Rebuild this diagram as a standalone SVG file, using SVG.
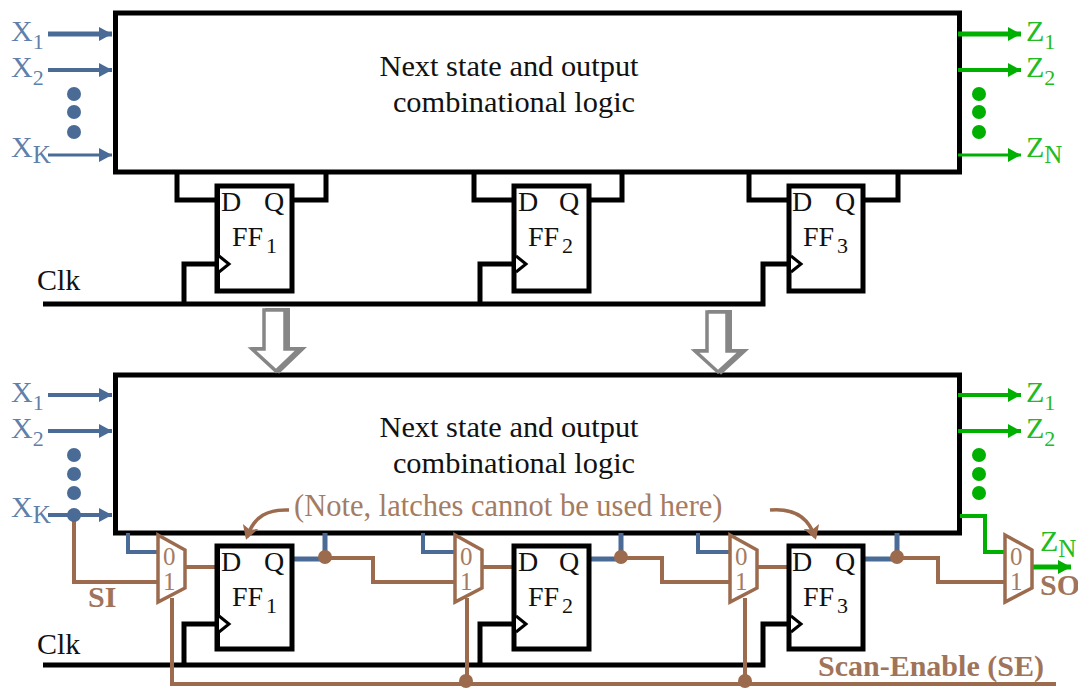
<svg xmlns="http://www.w3.org/2000/svg" width="1078" height="688" viewBox="0 0 1078 688">
<style>
text{font-family:"Liberation Serif","Times New Roman",serif;fill:#111}
.t{font-size:30.4px;text-anchor:middle}
.x{font-size:30px;fill:#5f80ab}
.z{font-size:30px;fill:#22bb22}
.s{font-size:22px}
.l{font-size:25px}
.ff{font-size:28px}
.n{font-size:30.5px;fill:#a57c62}
.b{font-weight:bold;fill:#a0745a;font-size:30px}
.m{font-size:25px;fill:#a57c62}
.ck{font-size:30px}
.box{fill:#fff;stroke:#000;stroke-width:5}
.ffb{fill:#fff;stroke:#000;stroke-width:5}
.k{fill:none;stroke:#000;stroke-width:5}
.bl{fill:none;stroke:#4a6b96;stroke-width:4}
.br{fill:none;stroke:#9c6b4e;stroke-width:4}
.g{fill:none;stroke:#00b000;stroke-width:4}
.mux{fill:#fff;fill-opacity:.6;stroke:#9c6b4e;stroke-width:3.5}
.tri{fill:#fff;stroke:#000;stroke-width:3}
.big{fill:#fff;stroke:#868686;stroke-width:3.5}
.sh{fill:#868686;stroke:#868686;stroke-width:4}
.bd{fill:#4a6b96}.gd{fill:#00b000}.rd{fill:#9c6b4e}
</style>
<defs>
<marker id="ab" markerUnits="userSpaceOnUse" markerWidth="14" markerHeight="14" refX="13" refY="7" orient="auto"><path d="M0 0L13 7L0 14z" fill="#4a6b96"/></marker>
<marker id="ag" markerUnits="userSpaceOnUse" markerWidth="14" markerHeight="14" refX="13" refY="7" orient="auto"><path d="M0 0L13 7L0 14z" fill="#00b000"/></marker>
<marker id="ar" markerUnits="userSpaceOnUse" markerWidth="16" markerHeight="16" refX="11" refY="8" orient="auto"><path d="M0 0L14 8L0 16L3 8z" fill="#9c6b4e"/></marker>
<g id="tr"><path class="tri" d="M219 -8L229 0L219 8"/></g>
</defs>

<g id="logic-top"><rect class="box" x="115.5" y="13" width="844" height="159"/>
<text class="t" x="509" y="76">Next state and output</text><text class="t" x="514" y="112">combinational logic</text></g>
<g id="logic-bottom"><rect class="box" x="115.5" y="375" width="844" height="158"/>
<text class="t" x="509" y="437">Next state and output</text><text class="t" x="514" y="473">combinational logic</text></g>

<g id="connectors">
<path class="k" d="M177 172V200H217M292 200H326V172M474 172V200H514M589 200H622V172M749 172V200H789M863 200H898V172"/>
<path class="k" d="M43 304H763V264H789M184 304V264H217M480 304V264H514"/>
<path class="bl" style="stroke-width:5" d="M48 34H112" marker-end="url(#ab)"/>
<path class="bl" d="M48 70H112" marker-end="url(#ab)"/>
<path class="bl" style="stroke-width:3" d="M48 155H112" marker-end="url(#ab)"/>
<path class="g" style="stroke-width:5" d="M958 34H1021" marker-end="url(#ag)"/>
<path class="g" d="M958 70H1021" marker-end="url(#ag)"/>
<path class="g" style="stroke-width:3" d="M958 155H1021" marker-end="url(#ag)"/>
<path class="bl" d="M48 395H112" marker-end="url(#ab)"/>
<path class="bl" d="M48 431H112" marker-end="url(#ab)"/>
<path class="bl" d="M48 515H112" marker-end="url(#ab)"/>
<path class="g" d="M958 395H1021" marker-end="url(#ag)"/>
<path class="g" d="M958 431H1021" marker-end="url(#ag)"/>
<path class="k" d="M43 665H763V624H789M184 665V624H217M480 665V624H514"/>
<path class="bl" d="M128 533V552H158M423 533V552H455M698 533V552H730"/>
<path class="bl" style="stroke-width:5" d="M294 559H325M325 533V556M590 559H621M621 533V556M862 559H897M897 533V556"/>
<path class="br" d="M74 515V582H158M185 567H217M482 567H514M757 567H789"/>
<path class="br" d="M325 558H373V582H455M621 558H662V582H730M897 558H938V582H1005"/>
<path class="br" d="M172 598V684H1056M467 598V684M745 598V684"/>
<path class="g" d="M960 516H985V552H1005"/>
<path class="g" style="stroke-width:5" d="M1032 567H1071" marker-end="url(#ag)"/>
<path class="br" style="stroke-width:3.5" d="M289 510C268 509 254 516 247 537" marker-end="url(#ar)"/>
<path class="br" style="stroke-width:3.5" d="M770 510C792 508 808 516 815 537" marker-end="url(#ar)"/>
<circle class="rd" cx="325" cy="557" r="7"/><circle class="rd" cx="621" cy="557" r="7"/><circle class="rd" cx="897" cy="557" r="7"/>
<circle class="rd" cx="466" cy="681" r="7"/><circle class="rd" cx="745" cy="681" r="7"/>
<circle class="bd" cx="74" cy="515" r="7"/>
</g>

<g id="ff1-top"><path class="ffb" d="M217 186H292V291H217z"/><path d="M215 186h5v105h-5z"/><use href="#tr" y="264"/><text class="ff" x="221" y="211">D</text><text class="ff" x="264" y="211">Q</text><text class="ff" x="232" y="246">FF</text><text class="s" x="266" y="253">1</text></g>
<g id="ff2-top"><path class="ffb" d="M514 186H589V291H514z"/><use href="#tr" x="297" y="264"/><text class="ff" x="518" y="211">D</text><text class="ff" x="559" y="211">Q</text><text class="ff" x="528" y="246">FF</text><text class="s" x="562" y="253">2</text></g>
<g id="ff3-top"><path class="ffb" d="M789 186H863V291H789z"/><use href="#tr" x="572" y="264"/><text class="ff" x="792" y="211">D</text><text class="ff" x="835" y="211">Q</text><text class="ff" x="803" y="246">FF</text><text class="s" x="837" y="253">3</text></g>

<g id="ff1-bot"><path class="ffb" d="M217 546H292V649H217z"/><path d="M215 546h5v103h-5z"/><use href="#tr" y="624"/><text class="ff" x="221" y="571">D</text><text class="ff" x="264" y="571">Q</text><text class="ff" x="232" y="606">FF</text><text class="s" x="266" y="613">1</text></g>
<g id="ff2-bot"><path class="ffb" d="M514 546H589V649H514z"/><use href="#tr" x="297" y="624"/><text class="ff" x="518" y="571">D</text><text class="ff" x="559" y="571">Q</text><text class="ff" x="528" y="606">FF</text><text class="s" x="562" y="613">2</text></g>
<g id="ff3-bot"><path class="ffb" d="M789 546H863V649H789z"/><use href="#tr" x="572" y="624"/><text class="ff" x="792" y="571">D</text><text class="ff" x="835" y="571">Q</text><text class="ff" x="803" y="606">FF</text><text class="s" x="837" y="613">3</text></g>

<g id="mux1"><path class="mux" d="M158 535L185 550V588L158 602z"/><text class="m" x="163" y="565">0</text><text class="m" x="163" y="590">1</text></g>
<g id="mux2"><path class="mux" d="M455 535L482 550V588L455 602z"/><text class="m" x="460" y="565">0</text><text class="m" x="460" y="590">1</text></g>
<g id="mux3"><path class="mux" d="M730 535L757 550V588L730 602z"/><text class="m" x="735" y="565">0</text><text class="m" x="735" y="590">1</text></g>
<g id="mux4"><path class="mux" d="M1005 535L1032 550V588L1005 602z"/><text class="m" x="1010" y="565">0</text><text class="m" x="1010" y="590">1</text></g>

<g id="shift-arrows">
<path class="big" style="stroke-width:4" transform="translate(3 0)" d="M264 310H285V349H299L276 371L252 349H264z"/>
<path class="big" d="M264 310H285V349H299L276 371L252 349H264z"/>
<path class="big" style="stroke-width:4" transform="translate(3 0)" d="M707 312H727V351H741L718 372L695 351H707z"/>
<path class="big" d="M707 312H727V351H741L718 372L695 351H707z"/>
</g>

<g id="labels">
<text class="x" x="11" y="41">X<tspan class="s" dy="8">1</tspan></text>
<text class="x" x="11" y="77">X<tspan class="s" dy="8">2</tspan></text>
<text class="x" x="11" y="157">X<tspan class="l" dy="6">K</tspan></text>
<text class="x" x="11" y="402">X<tspan class="s" dy="8">1</tspan></text>
<text class="x" x="11" y="438">X<tspan class="s" dy="8">2</tspan></text>
<text class="x" x="11" y="517">X<tspan class="l" dy="6">K</tspan></text>
<text class="z" x="1026" y="41">Z<tspan class="s" dy="8">1</tspan></text>
<text class="z" x="1026" y="77">Z<tspan class="s" dy="8">2</tspan></text>
<text class="z" x="1026" y="157">Z<tspan class="l" dy="6">N</tspan></text>
<text class="z" x="1026" y="402">Z<tspan class="s" dy="8">1</tspan></text>
<text class="z" x="1026" y="438">Z<tspan class="s" dy="8">2</tspan></text>
<text class="z" x="1040" y="551">Z<tspan class="l" dy="6">N</tspan></text>
<text class="ck" x="37" y="290">Clk</text>
<text class="ck" x="37" y="654">Clk</text>
<text class="n" x="294" y="516">(Note, latches cannot be used here)</text>
<text class="b" x="88" y="607">SI</text>
<text class="b" x="1040" y="595">SO</text>
<text class="b" x="818" y="676">Scan-Enable (SE)</text>
</g>
<g id="dots">
<circle class="bd" cx="74" cy="94" r="7"/><circle class="bd" cx="74" cy="112" r="7"/><circle class="bd" cx="74" cy="132" r="7"/>
<circle class="bd" cx="74" cy="455" r="7"/><circle class="bd" cx="74" cy="474" r="7"/><circle class="bd" cx="74" cy="493" r="7"/>
<circle class="gd" cx="979" cy="94" r="7"/><circle class="gd" cx="979" cy="112" r="7"/><circle class="gd" cx="979" cy="132" r="7"/>
<circle class="gd" cx="979" cy="455" r="7"/><circle class="gd" cx="979" cy="474" r="7"/><circle class="gd" cx="979" cy="493" r="7"/>
</g>
</svg>
